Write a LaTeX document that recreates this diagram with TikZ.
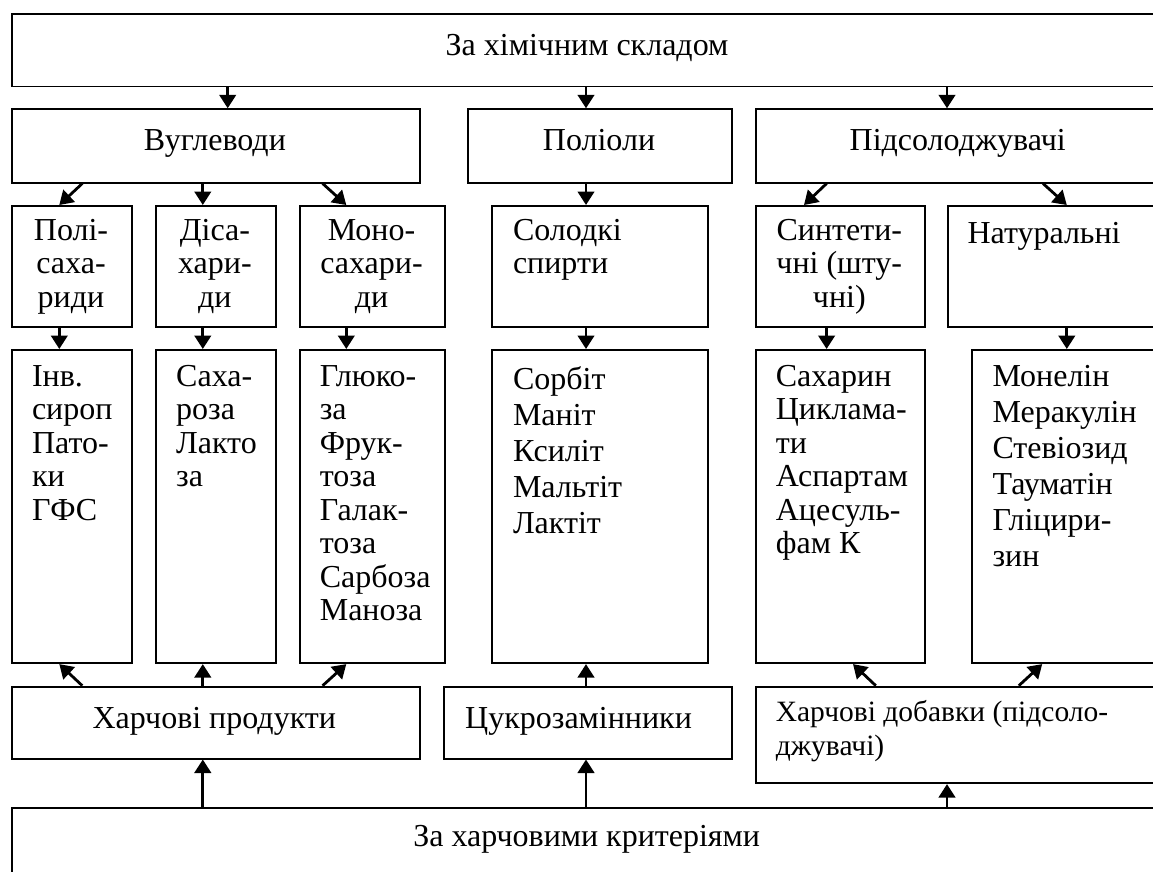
\documentclass[tikz,border=0pt]{standalone}
\usepackage{fontspec}
\setmainfont{Liberation Serif}
\usetikzlibrary{arrows.meta,positioning}

\begin{document}
\begin{tikzpicture}[
	x = 1pt, y = -1pt,
	box/.style = {draw, line width = 1.8pt, inner sep = 0pt, anchor = north west},
	txt/.style = {inner sep = 0pt, anchor = north west, align = left, yshift = 24pt,
		font = \fontsize{32}{33.5}\selectfont, execute at begin node = \rule{0pt}{24pt}},
	ctxt/.style = {txt, anchor = north, align = center},
	wide/.style = {font = \fontsize{32}{36}\selectfont},
	arr/.style = {-{Triangle[length = 13.5pt, width = 16.5pt]}, line width = 2.8pt}
	]
	
	\useasboundingbox (0, 0) rectangle (1153, 872);
	\clip (0, 0) rectangle (1153, 872);
	
	% boxes
	\node[box, minimum width = 1152.6pt, minimum height = 72.4pt] (chem) at (10.7, 13.3) {};
	\node[box, minimum width = 408.3pt, minimum height = 73.4pt] (vug) at (10.7, 108.3) {};
	\node[box, minimum width = 264pt, minimum height = 73.4pt] (pol) at (467, 108.3) {};
	\node[box, minimum width = 405.8pt, minimum height = 73.4pt] (sweet) at (754.8, 108.3) {};
	
	\node[box, minimum width = 120.6pt, minimum height = 121pt] (poly) at (10.7, 205) {};
	\node[box, minimum width = 119.8pt, minimum height = 121pt] (di) at (155, 205) {};
	\node[box, minimum width = 145pt, minimum height = 121pt] (mono) at (299, 205) {};
	\node[box, minimum width = 216pt, minimum height = 121pt] (alc) at (491, 205) {};
	\node[box, minimum width = 169pt, minimum height = 121pt] (synt) at (754.8, 205) {};
	\node[box, minimum width = 223pt, minimum height = 121pt] (nat) at (947, 205) {};
	
	\node[box, minimum width = 120.6pt, minimum height = 313.3pt] (inv) at (10.7, 349) {};
	\node[box, minimum width = 119.8pt, minimum height = 313.3pt] (sac) at (155, 349) {};
	\node[box, minimum width = 145pt, minimum height = 313.3pt] (glu) at (299, 349) {};
	\node[box, minimum width = 216pt, minimum height = 313.3pt] (sorb) at (491, 349) {};
	\node[box, minimum width = 169pt, minimum height = 313.3pt] (sach) at (754.8, 349) {};
	\node[box, minimum width = 199pt, minimum height = 313.3pt] (mon) at (971, 349) {};
	
	\node[box, minimum width = 408.3pt, minimum height = 72pt] (food) at (10.7, 685.7) {};
	\node[box, minimum width = 288.2pt, minimum height = 72pt] (subst) at (442.8, 685.7) {};
	\node[box, minimum width = 415.2pt, minimum height = 96.6pt] (add) at (754.8, 685.7) {};
	\node[box, minimum width = 1152.6pt, minimum height = 73.3pt] (crit) at (10.7, 806.7) {};
	
	% texts
	\node[ctxt] (chemT) at (587, 55) {За хімічним складом};
	\node[ctxt] (vugT) at (214.9, 150) {Вуглеводи};
	\node[ctxt] (polT) at (599, 150) {Поліоли};
	\node[ctxt] (sweetT) at (957.7, 150) {Підсолоджувачі};
	
	\node[ctxt] (polyT) at (71, 243) {Полі-\\саха-\\риди};
	\node[ctxt] (diT) at (214.9, 243) {Діса-\\хари-\\ди};
	\node[ctxt] (monoT) at (371.5, 243) {Моно-\\сахари-\\ди};
	\node[txt] (alcT) at (512.8, 243) {Солодкі\\спирти};
	\node[ctxt] (syntT) at (839.3, 243) {Синтети-\\чні (шту-\\чні)};
	\node[txt] (natT) at (967.3, 243) {Натуральні};
	
	\node[txt] (invT) at (31.8, 389) {Інв.\\сироп\\Пато-\\ки\\ГФС};
	\node[txt] (sacT) at (176, 389) {Саха-\\роза\\Лакто\\за};
	\node[txt] (gluT) at (319.6, 389) {Глюко-\\за\\Фрук-\\тоза\\Галак-\\тоза\\Сарбоза\\Маноза};
	\node[txt, wide] (sorbT) at (512.8, 390) {Сорбіт\\Маніт\\Ксиліт\\Мальтіт\\Лактіт};
	\node[txt] (sachT) at (775.6, 389) {Сахарин\\Циклама-\\ти\\Аспартам\\Ацесуль-\\фам К};
	\node[txt, wide] (monT) at (992.3, 389.5) {Монелін\\Меракулін\\Стевіозид\\Тауматін\\Гліцири-\\зин};
	
	\node[ctxt] (foodT) at (214.3, 728) {Харчові продукти};
	\node[txt] (substT) at (465, 728) {Цукрозамінники};
	\node[txt, font = \fontsize{29.5}{33.5}\selectfont] (addT) at (775.6, 724.5) {Харчові добавки (підсоло-\\джувачі)};
	\node[ctxt] (critT) at (586.7, 846.7) {За харчовими критеріями};
	
	% arrow columns
	\coordinate (ka) at (227.7, 0);
	\coordinate (k1) at (59.3, 0);
	\coordinate (d1) at (82.3, 0);
	\coordinate (k2) at (202.8, 0);
	\coordinate (d3) at (322.6, 0);
	\coordinate (k3) at (346.3, 0);
	\coordinate (k4) at (586, 0);
	\coordinate (e5) at (804, 0);
	\coordinate (k5) at (826.6, 0);
	\coordinate (g5) at (853, 0);
	\coordinate (f5) at (875.8, 0);
	\coordinate (k6) at (947, 0);
	\coordinate (f7) at (1018.8, 0);
	\coordinate (d7) at (1043, 0);
	\coordinate (g7) at (1042.2, 0);
	\coordinate (k7) at (1066.8, 0);
	
	\draw[arr] (chem.south -| ka) -- (vug.north -| ka);
	\draw[arr] (chem.south -| k4) -- (pol.north -| k4);
	\draw[arr] (chem.south -| k6) -- (sweet.north -| k6);
	
	\draw[arr] (vug.south -| d1) -- (poly.north -| k1);
	\draw[arr] (vug.south -| k2) -- (di.north -| k2);
	\draw[arr] (vug.south -| d3) -- (mono.north -| k3);
	\draw[arr] (pol.south -| k4) -- (alc.north -| k4);
	\draw[arr] (sweet.south -| k5) -- (synt.north -| e5);
	\draw[arr] (sweet.south -| d7) -- (nat.north -| k7);
	
	\draw[arr] (poly.south -| k1) -- (inv.north -| k1);
	\draw[arr] (di.south -| k2) -- (sac.north -| k2);
	\draw[arr] (mono.south -| k3) -- (glu.north -| k3);
	\draw[arr] (alc.south -| k4) -- (sorb.north -| k4);
	\draw[arr] (synt.south -| k5) -- (sach.north -| k5);
	\draw[arr] (nat.south -| k7) -- (mon.north -| k7);
	
	\draw[arr] (food.north -| d1) -- (inv.south -| k1);
	\draw[arr] (food.north -| k2) -- (sac.south -| k2);
	\draw[arr] (food.north -| d3) -- (glu.south -| k3);
	\draw[arr] (subst.north -| k4) -- (sorb.south -| k4);
	\draw[arr] (add.north -| f5) -- (sach.south -| g5);
	\draw[arr] (add.north -| f7) -- (mon.south -| g7);
	
	\draw[arr] (crit.north -| k2) -- (food.south -| k2);
	\draw[arr] (crit.north -| k4) -- (subst.south -| k4);
	\draw[arr] (crit.north -| k6) -- (add.south -| k6);

\end{tikzpicture}
\end{document}
